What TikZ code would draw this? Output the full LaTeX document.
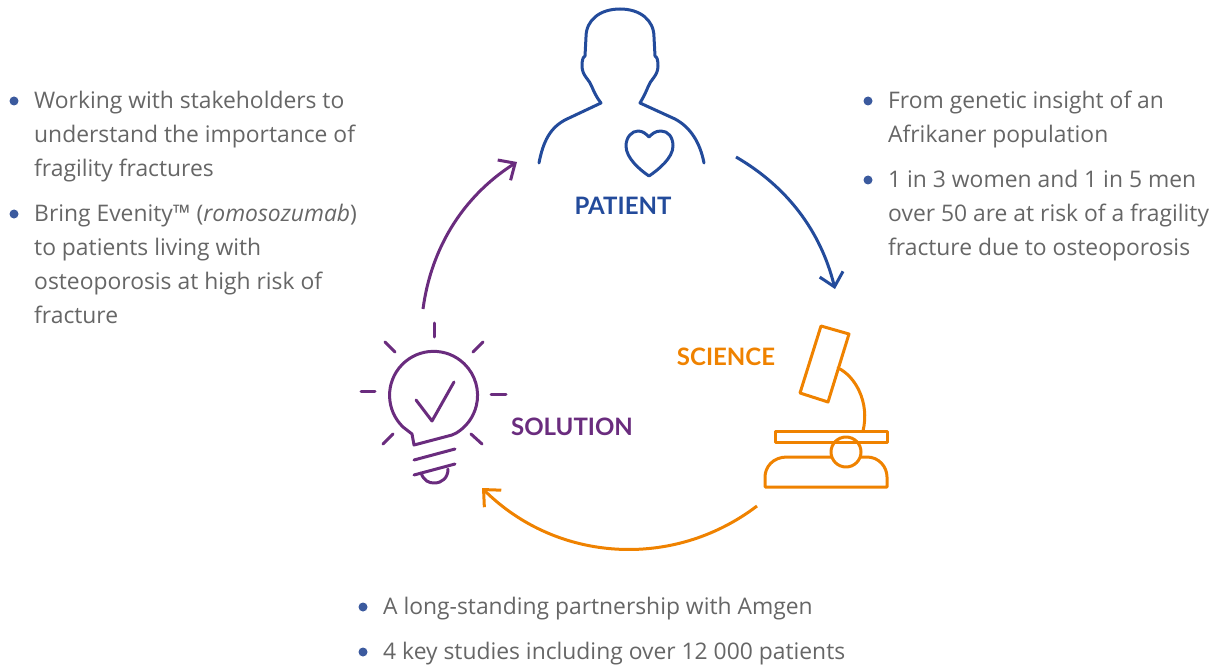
\documentclass[tikz,border=0pt]{standalone}
\usepackage{fontspec}
\setmainfont{Open Sans}
\newfontfamily\labfont{Lato}
\usetikzlibrary{arrows.meta}
\definecolor{pblue}{HTML}{234B9B}
\definecolor{porange}{HTML}{EF8200}
\definecolor{ppurple}{HTML}{6A2C7E}
\definecolor{ptext}{HTML}{666666}
\definecolor{pdot}{HTML}{3B5A9E}
\newcommand{\bodyfont}{\fontsize{22.85}{34}\selectfont\color{ptext}}
\tikzset{x=1pt,y=-1pt,
 icon/.style={line width=3pt,line cap=round,line join=round},
 flow/.style={line width=3pt,-{Straight Barb[length=13pt,width=24pt,line width=3pt]}},
 para/.style={anchor=north west,inner sep=0pt,align=left,font=\bodyfont},
 dot/.style={circle,fill=pdot,draw=none,minimum size=9pt,inner sep=0pt},
 lab/.style={font=\labfont\fontsize{24}{28}\selectfont\bfseries,inner sep=0pt}}
\begin{document}
\begin{tikzpicture}
\useasboundingbox (0,0) rectangle (1219,666);
% patient icon
\draw[icon,pblue] (539,163) .. controls (543,142) and (550,127) .. (567,119) -- (601,103)
 .. controls (597,98) and (594,92) .. (592,87) .. controls (590,80) and (582,76) .. (582,66)
 .. controls (582,60) and (583,57) .. (585,56) -- (586,37)
 .. controls (586,20) and (600,9) .. (620,9) .. controls (640,9) and (654,20) .. (654,37) -- (655,56)
 .. controls (657,57) and (658,60) .. (658,66) .. controls (658,76) and (650,80) .. (648,87)
 .. controls (646,92) and (643,98) .. (640,103) -- (675,119)
 .. controls (690,127) and (700,142) .. (704,163);
\draw[icon,pblue] (649,176) .. controls (640,170) and (626,158) .. (626,146)
 .. controls (626,137) and (632,131) .. (638,131) .. controls (643,131) and (646,134) .. (649,137)
 .. controls (652,134) and (655,131) .. (661,131) .. controls (668,131) and (673,137) .. (673,146)
 .. controls (673,158) and (658,170) .. (649,176);
\node[lab,text=pblue] (patient) at (623,206) {PATIENT};
% microscope
\draw[icon,porange] (821,326) -- (849,334) -- (828,402) -- (800,393) -- cycle;
\draw[icon,porange] (838,368) .. controls (855,376) and (870,402) .. (863,431);
\draw[icon,porange] (775,431) rectangle (887,442);
\draw[icon,porange] (846,452) circle[radius=15];
\draw[icon,porange] (831,457) -- (787,457) .. controls (773,457) and (765,467) .. (765,477) -- (765,487) -- (887,487) -- (887,477)
 .. controls (887,467) and (879,457) .. (867,457) -- (861,457);
\node[lab,text=porange] (science) at (726,357) {SCIENCE};
% bulb
\draw[icon,ppurple] (412,434) -- (403,427) arc[start angle=134,end angle=418.6,radius=44] -- (452,435) -- (414,445) -- cycle;
\draw[icon,ppurple] (416,400) -- (432,421) -- (454,382);
\draw[icon,ppurple] (414,460) -- (455,449);
\draw[icon,ppurple] (414,475) -- (455,464);
\draw[icon,ppurple] (421,473) .. controls (424,481) and (429,483) .. (434,483) .. controls (442,483) and (448,478) .. (448,469);
\draw[icon,ppurple] (434,323) -- (434,337);
\draw[icon,ppurple] (385,342) -- (395,352);
\draw[icon,ppurple] (483,342) -- (473,352);
\draw[icon,ppurple] (361,391) -- (375,391);
\draw[icon,ppurple] (491,394) -- (506,394);
\draw[icon,ppurple] (393,434) -- (383,444);
\draw[icon,ppurple] (471,434) -- (482,444);
\node[lab,text=ppurple] (solution) at (572,427) {SOLUTION};
% arrows
\coordinate (a1) at (736,157);
\coordinate (a2) at (835,289);
\coordinate (b1) at (757,506);
\coordinate (b2) at (482,488);
\coordinate (c1) at (423,309);
\coordinate (c2) at (517,162);
\draw[flow,pblue] (a1) to[bend left=23,looseness=.92] (a2);
\draw[flow,porange] (b1) to[bend left=41,looseness=.98] (b2);
\draw[flow,ppurple] (c1) to[bend left=25,looseness=.92] (c2);
% text
\node[dot] (d1) at (14,101) {};
\node[para] (t1) at (34,91) {Working with stakeholders to\\understand the importance of\\fragility fractures};
\node[dot] (d2) at (14,214) {};
\node[para] (t2) at (34,204) {Bring Evenity™ (\textit{romosozumab})\\to patients living with\\osteoporosis at high risk of\\fracture};
\node[dot] (d3) at (868,101) {};
\node[para] (t3) at (888,91) {From genetic insight of an\\Afrikaner population};
\node[dot] (d4) at (868,180) {};
\node[para] (t4) at (888,170) {1 in 3 women and 1 in 5 men\\over 50 are at risk of a fragility\\fracture due to osteoporosis};
\node[dot] (d5) at (363,607) {};
\node[para] (t5) at (383,597) {A long-standing partnership with Amgen};
\node[dot] (d6) at (363,652) {};
\node[para] (t6) at (383,642) {4 key studies including over 12 000 patients};
\end{tikzpicture}
\end{document}
